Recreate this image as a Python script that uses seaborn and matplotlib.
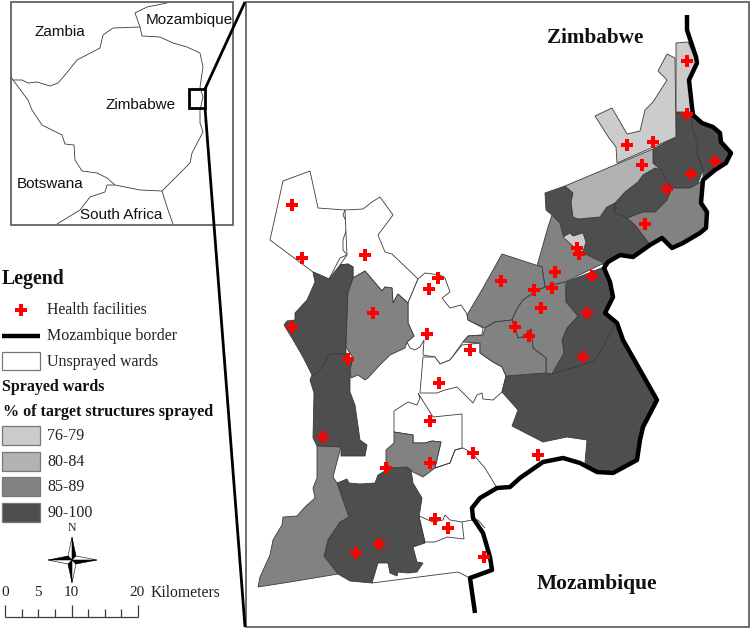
import matplotlib
matplotlib.use("Agg")
import matplotlib.pyplot as plt
import pandas as pd
import seaborn as sns
from matplotlib.patches import Polygon, Rectangle

# all map geometry, in image pixels (x, y)
GREY_76 = "#cccccc"
GREY_80 = "#b2b2b2"
GREY_85 = "#828282"
GREY_90 = "#4e4e4e"

# health facilities
fac_x = [687, 687, 627, 653, 642, 691, 715, 667, 645, 577, 579, 592, 555, 501, 534, 552, 541, 587, 515, 529, 583,
         438, 429, 427, 470, 439, 430, 473, 430, 538, 292, 302, 365, 373, 292, 348, 323, 386, 435, 448, 379, 356, 484]
fac_y = [61, 114, 145, 142, 165, 174, 161, 189, 224, 248, 254, 276, 272, 281, 290, 288, 308, 313, 327, 336, 357,
         278, 289, 334, 350, 383, 421, 453, 463, 455, 205, 258, 255, 313, 327, 359, 437, 468, 519, 528, 544, 553, 557]

# wards, drawn in this order
unsprayed_wards = [
    [(283, 181), (310, 171), (318, 208), (345, 210), (343, 215), (348, 225), (343, 240), (343, 250), (347, 255),
     (340, 258), (329, 279), (313, 272), (270, 240)],
    [(345, 210), (363, 209), (372, 202), (380, 197), (393, 215), (378, 235), (385, 252), (392, 254), (418, 279),
     (408, 303), (398, 294), (393, 303), (392, 288), (385, 287), (382, 291), (365, 271), (353, 278), (353, 267),
     (348, 264), (340, 265), (347, 255)],
    [(418, 279), (425, 273), (440, 275), (445, 278), (450, 292), (442, 298), (450, 308), (461, 305), (467, 314),
     (468, 320), (483, 328), (482, 335), (468, 336), (463, 342), (450, 360), (440, 364), (435, 357), (423, 355),
     (424, 340), (420, 347), (415, 350), (410, 348), (407, 342), (414, 336), (408, 323), (408, 303)],
    [(423, 357), (435, 357), (440, 364), (450, 360), (462, 345), (480, 343), (480, 353), (493, 362), (502, 367),
     (506, 376), (502, 392), (493, 400), (483, 399), (482, 393), (477, 395), (473, 403), (457, 387), (445, 390),
     (437, 393), (420, 393)],
    [(394, 411), (408, 402), (417, 405), (420, 398), (418, 393), (433, 417), (462, 414), (462, 448), (455, 450),
     (450, 463), (435, 468), (441, 442), (432, 441), (425, 443), (413, 443), (413, 435), (394, 432)],
    [(419, 516), (433, 522), (443, 520), (445, 515), (450, 520), (462, 522), (464, 539), (447, 537), (435, 542),
     (425, 542)],
]
unsprayed_lines = [
    [(435, 468), (450, 463), (455, 450), (463, 448), (472, 453), (485, 468), (497, 488)],
    [(372, 583), (458, 572), (468, 577)],
    [(462, 522), (472, 520), (478, 520), (485, 528)],
]
wards_90 = [
    [(545, 193), (565, 186), (573, 193), (571, 202), (573, 217), (578, 219), (600, 217), (607, 207), (615, 202),
     (615, 213), (627, 218), (635, 225), (648, 242), (650, 245), (633, 257), (620, 255), (608, 262),
     (604, 265), (577, 250), (563, 235), (560, 223), (552, 215), (546, 210)],
    [(676, 112), (692, 112), (692, 127), (698, 143), (697, 153), (703, 170), (698, 183), (690, 188), (672, 188),
     (667, 182), (661, 170), (653, 163), (653, 149), (676, 137)],
    [(692, 115), (700, 122), (713, 127), (720, 133), (721, 142), (731, 153), (726, 163), (715, 170), (703, 180),
     (703, 170), (697, 153), (698, 143), (692, 127)],
    [(615, 203), (625, 192), (638, 182), (643, 175), (655, 168), (661, 170), (667, 182), (672, 188), (667, 200),
     (655, 212), (643, 212), (627, 218), (615, 213)],
    [(566, 282), (604, 267), (607, 273), (613, 297), (605, 313), (615, 325), (597, 358), (592, 362), (552, 374),
     (564, 353), (562, 340), (567, 328), (578, 316), (566, 302)],
    [(615, 325), (623, 340), (657, 400), (643, 427), (640, 440), (637, 460), (613, 473), (597, 472), (585, 463),
     (587, 440), (567, 437), (543, 442), (512, 426), (518, 410), (502, 392), (506, 376), (546, 373), (552, 374),
     (592, 362), (597, 358)],
    [(313, 272), (329, 279), (340, 265), (348, 264), (353, 267), (353, 278), (348, 293), (347, 317), (346, 347),
     (346, 354), (330, 354), (318, 373), (312, 375), (303, 357), (292, 338), (284, 325), (287, 321), (295, 320),
     (295, 313), (307, 300), (315, 282)],
    [(330, 354), (346, 354), (353, 360), (350, 378), (350, 392), (355, 405), (360, 440), (367, 445), (365, 456),
     (341, 456), (341, 447), (317, 446), (313, 438), (314, 393), (310, 380), (312, 375), (318, 373)],
    [(337, 483), (347, 479), (349, 483), (360, 484), (375, 483), (378, 475), (390, 468), (407, 467), (411, 470),
     (413, 483), (422, 498), (419, 517), (425, 543), (413, 547), (417, 562), (423, 563), (417, 572), (408, 573),
     (398, 572), (397, 576), (390, 573), (388, 563), (378, 563), (372, 583), (350, 581), (338, 574), (324, 556),
     (328, 540), (340, 522), (349, 517)],
]
wards_85 = [
    [(627, 218), (643, 212), (655, 212), (667, 200), (672, 188), (690, 188), (699, 183), (703, 180), (701, 203),
     (707, 212), (706, 228), (700, 233), (683, 243), (672, 248), (662, 238), (650, 245), (648, 242), (635, 225)],
    [(552, 215), (560, 223), (563, 235), (577, 250), (604, 263), (565, 282), (545, 287), (542, 267), (537, 266),
     (548, 227)],
    [(502, 254), (542, 267), (545, 287), (533, 293), (523, 300), (517, 309), (512, 320), (495, 322), (485, 328),
     (468, 320), (467, 315), (483, 288)],
    [(565, 282), (566, 302), (578, 316), (567, 328), (562, 340), (564, 353), (552, 374), (546, 373), (546, 358),
     (533, 348), (531, 329), (523, 337), (518, 338), (512, 320), (517, 309), (523, 300), (533, 293), (545, 287)],
    [(485, 328), (495, 322), (512, 320), (518, 338), (523, 337), (531, 329), (533, 348), (546, 358), (546, 373),
     (506, 376), (502, 367), (493, 362), (480, 353), (480, 343), (463, 342), (468, 336), (483, 335)],
    [(365, 271), (382, 291), (385, 287), (392, 288), (393, 303), (398, 294), (408, 303), (408, 323), (414, 336),
     (407, 342), (405, 348), (390, 355), (378, 367), (368, 378), (365, 380), (358, 375), (351, 378), (350, 370),
     (353, 358), (346, 347), (347, 317), (348, 293), (353, 278)],
    [(317, 446), (341, 447), (338, 458), (333, 477), (337, 483), (349, 517), (340, 522), (328, 540), (324, 556),
     (338, 574), (290, 582), (258, 587), (260, 577), (270, 555), (273, 540), (282, 525), (283, 517), (297, 516),
     (305, 507), (315, 498), (313, 488), (317, 478)],
    [(394, 432), (413, 435), (413, 443), (425, 443), (432, 441), (441, 442), (438, 455), (435, 468), (423, 477),
     (413, 472), (411, 470), (407, 467), (390, 468), (386, 462), (386, 450), (394, 443)],
]
wards_80 = [
    [(565, 186), (653, 149), (653, 163), (661, 170), (655, 168), (643, 175), (638, 182), (625, 192), (615, 203),
     (607, 207), (600, 217), (578, 219), (573, 217), (571, 202), (573, 193)],
]
wards_76 = [
    [(676, 43), (688, 42), (693, 53), (697, 60), (689, 80), (692, 103), (692, 112), (676, 112)],
    [(667, 54), (675, 58), (676, 137), (617, 163), (616, 147), (609, 138), (595, 116), (612, 108), (627, 134),
     (640, 131), (645, 110), (653, 102), (667, 80), (658, 71)],
    [(563, 237), (570, 233), (573, 236), (583, 233), (586, 242), (583, 252), (577, 250)],
]

border_moz = [(687, 15), (687, 30), (696, 57), (697, 63), (689, 80), (692, 107), (693, 115), (702, 123), (713, 127),
              (720, 133), (721, 142), (731, 153), (726, 163), (715, 170), (703, 180), (701, 203), (707, 212),
              (706, 228), (700, 233), (683, 243), (672, 248), (662, 238), (650, 245), (633, 257), (620, 255),
              (608, 262), (604, 268), (610, 282), (613, 297), (605, 313), (617, 323), (623, 340),
              (657, 400), (643, 427), (640, 440), (637, 460), (613, 473), (597, 472), (580, 463), (563, 458),
              (543, 462), (520, 478), (510, 487), (497, 488), (480, 498), (472, 508), (473, 518), (483, 533),
              (490, 557), (492, 570), (470, 578), (475, 613)]

# inset map lines
zim_border = [(11, 77), (13, 80), (22, 80), (28, 83), (37, 82), (50, 86), (58, 83), (65, 75), (77, 60), (100, 48),
              (103, 35), (113, 28), (140, 27), (142, 36), (160, 37), (173, 43), (187, 47), (200, 53), (203, 67),
              (200, 87), (203, 97), (200, 110), (200, 123), (203, 132), (192, 153), (190, 163), (162, 191),
              (140, 190), (115, 185), (107, 178), (97, 173), (82, 171), (75, 160), (74, 145), (65, 144), (62, 135),
              (42, 125), (32, 110), (28, 100), (13, 80)]
moz_zambia = [(140, 27), (135, 13), (147, 7), (167, 3)]
sa_botswana = [(57, 224), (80, 210), (90, 197), (105, 192), (107, 185), (115, 185)]
sa_moz = [(162, 191), (168, 210), (173, 224)]

legend_labels = ["76-79", "80-84", "85-89", "90-100"]
legend_colors = [GREY_76, GREY_80, GREY_85, GREY_90]
scale_km = [0, 5, 10, 20]

SERIF = "Liberation Serif"
SANS = "Liberation Sans"

sns.set_theme(style="white")
fig = plt.figure(figsize=(7.5, 6.3), dpi=100)
ax = fig.add_axes([0, 0, 1, 1])


def draw_wards(wards, color):
    for w in wards:
        ax.add_patch(Polygon(w, closed=True, fc=color, ec="#3a3a3a", lw=0.6, zorder=2))


def draw_line(pts, lw=0.6, color="#3a3a3a", z=3):
    ax.plot([p[0] for p in pts], [p[1] for p in pts], color=color, lw=lw, zorder=z,
            solid_joinstyle="round", solid_capstyle="butt")


# frames
ax.add_patch(Rectangle((245.5, 2), 503, 625, fc="white", ec="#555555", lw=1.2, zorder=1))
ax.add_patch(Rectangle((10.5, 2), 222, 223, fc="white", ec="#555555", lw=1.2, zorder=1))

# inset
draw_line(zim_border)
draw_line(moz_zambia)
draw_line(sa_botswana)
draw_line(sa_moz)
ax.add_patch(Rectangle((189, 89), 16, 19, fc="none", ec="black", lw=2, zorder=4))
draw_line([(205, 89), (245, 2)], lw=2, color="black", z=4)
draw_line([(205, 108), (245, 627)], lw=2, color="black", z=4)
for txt, x, y in [("Zambia", 60, 32), ("Mozambique", 189, 20), ("Zimbabwe", 141, 105), ("Botswana", 50, 184),
                  ("South Africa", 121, 215)]:
    ax.text(x, y, txt, family=SANS, fontsize=11, color="#111111", ha="center", va="center", zorder=5)

# main map
draw_wards(unsprayed_wards, "white")
for line in unsprayed_lines:
    draw_line(line)
draw_wards(wards_90, GREY_90)
draw_wards(wards_85, GREY_85)
draw_wards(wards_80, GREY_80)
draw_wards(wards_76, GREY_76)
draw_line(border_moz, lw=3.2, color="black", z=5)

facilities = pd.DataFrame({"x": fac_x, "y": fac_y})
sns.scatterplot(data=facilities, x="x", y="y", marker="P", s=75, color="#ff0000", linewidth=0, ax=ax, zorder=6)

ax.text(595.5, 38, "Zimbabwe", family=SERIF, fontweight="bold", fontsize=15.3, color="#111111", ha="center", va="center")
ax.text(597, 584, "Mozambique", family=SERIF, fontweight="bold", fontsize=15.5, color="#111111", ha="center", va="center")

# legend
ax.text(2, 279, "Legend", family=SERIF, fontweight="bold", fontsize=14.3, color="#111111", va="center")
sns.scatterplot(x=[21], y=[310], marker="P", s=75, color="#ff0000", linewidth=0, ax=ax, zorder=6)
ax.text(47, 310, "Health facilities", family=SERIF, fontsize=11.3, color="#222222", va="center")
draw_line([(2, 336), (40, 336)], lw=3.2, color="black")
ax.text(47, 336, "Mozambique border", family=SERIF, fontsize=11.5, color="#222222", va="center")
ax.add_patch(Rectangle((2, 352), 38, 18, fc="white", ec="#777777", lw=0.9))
ax.text(47, 362, "Unsprayed wards", family=SERIF, fontsize=11.5, color="#222222", va="center")
ax.text(2, 387, "Sprayed wards", family=SERIF, fontweight="bold", fontsize=11.5, color="#111111", va="center")
ax.text(3, 412, "% of target structures sprayed", family=SERIF, fontweight="bold", fontsize=11.6, color="#111111",
        va="center")
for i, (lab, col) in enumerate(zip(legend_labels, legend_colors)):
    y0 = 426 + i * 25.6
    ax.add_patch(Rectangle((2, y0), 38, 19, fc=col, ec="#777777", lw=0.9))
    ax.text(47, y0 + 10, lab, family=SERIF, fontsize=11.5, color="#222222", va="center")

# north arrow
cx, cy = 72, 560
ax.text(cx, 528, "N", family=SERIF, fontsize=8.5, color="#222222", ha="center", va="center")
arms = [((0, -23), (4, -4), (-4, -4)), ((0, 23), (-4, 4), (4, 4)), ((25, 0), (4, 4), (4, -4)), ((-24, 0), (-4, -4), (-4, 4))]
for tip, a, b in arms:
    ax.fill([cx + tip[0], cx + a[0], cx], [cy + tip[1], cy + a[1], cy], fc="black", ec="black", lw=0.4, zorder=3)
    ax.fill([cx + tip[0], cx + b[0], cx], [cy + tip[1], cy + b[1], cy], fc="white", ec="black", lw=0.4, zorder=3)

# scale bar
x0, x20 = 5, 138
for km, xpos in zip(scale_km, [5, 38, 71, 137]):
    ax.text(xpos, 593, str(km), family=SERIF, fontsize=11, color="#222222", ha="center", va="center")
ax.text(151, 593, "Kilometers", family=SERIF, fontsize=11.3, color="#222222", va="center")
draw_line([(x0, 617), (x20, 617)], lw=0.9)
for i in range(9):
    xt = x0 + i * (x20 - x0) / 8
    draw_line([(xt, 617), (xt, 605 if i % 4 == 0 else 609)], lw=0.9)

ax.set_xlim(0, 750)
ax.set_ylim(630, 0)
ax.axis("off")
fig.savefig("out.png", dpi=100)
